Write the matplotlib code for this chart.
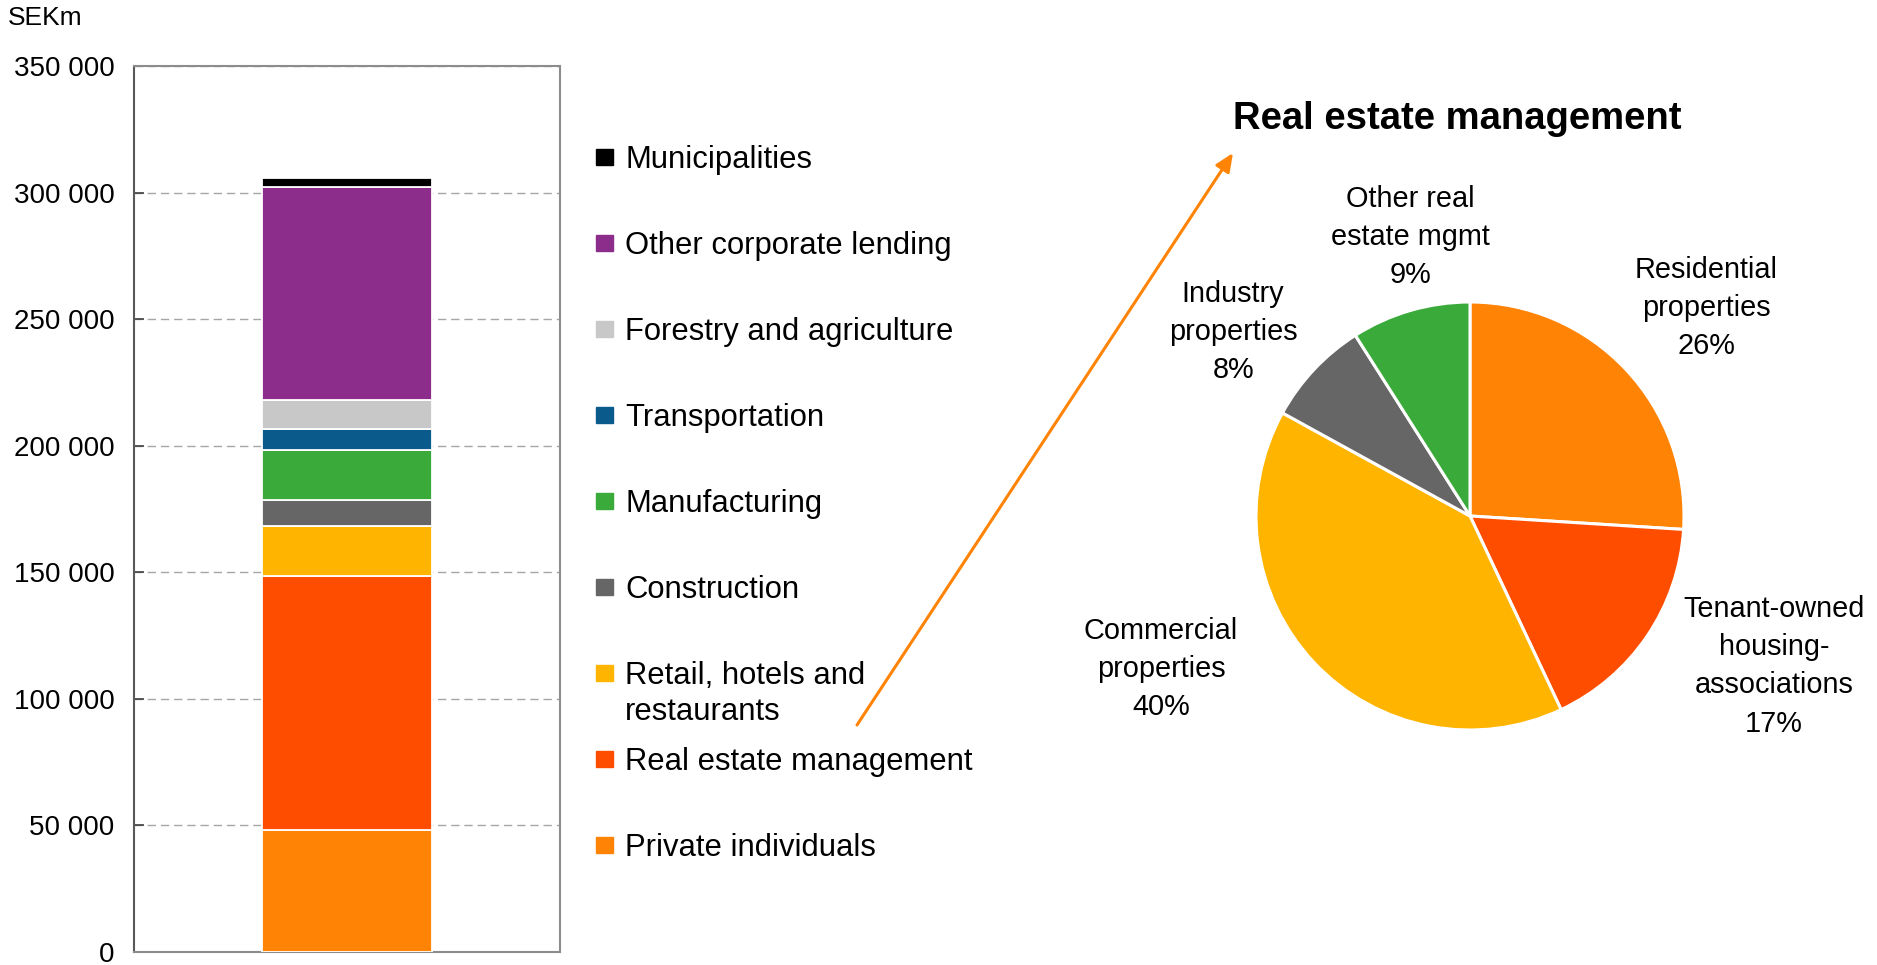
import matplotlib.pyplot as plt
from matplotlib.patches import Rectangle, FancyArrowPatch
from matplotlib.ticker import FuncFormatter

plt.rcParams['font.family'] = ['Liberation Sans', 'DejaVu Sans']

# lending per sector, SEKm, from the bottom of the bar upwards
sectors = ['Private individuals', 'Real estate management',
           'Retail, hotels and\nrestaurants', 'Construction', 'Manufacturing',
           'Transportation', 'Forestry and agriculture',
           'Other corporate lending', 'Municipalities']
lending = [48000, 100500, 19700, 10200, 19800, 8600, 11200, 84100, 3800]
sector_colors = ['#FF8305', '#FF4D00', '#FFB400', '#666666', '#3AAA3A',
                 '#0B5A8C', '#C8C8C8', '#8C2D8C', '#000000']
y_ticks = [0, 50000, 100000, 150000, 200000, 250000, 300000, 350000]

# real estate management split, %
re_parts = ['Residential\nproperties', 'Tenant-owned\nhousing-\nassociations',
            'Commercial\nproperties', 'Industry\nproperties',
            'Other real\nestate mgmt']
re_shares = [26, 17, 40, 8, 9]
re_colors = ['#FF8305', '#FF4D00', '#FFB400', '#666666', '#3AAA3A']

W, H = 1877, 965
fig = plt.figure(figsize=(W / 100, H / 100), dpi=100)

# --- stacked bar
ax = fig.add_axes([134 / W, 1 - 952 / H, 426 / W, 886 / H])
bottom = 0
for val, col in zip(lending, sector_colors):
    ax.bar(0, val, width=0.4, bottom=bottom, color=col,
           edgecolor='white', linewidth=1.3, zorder=3)
    bottom += val
ax.set_xlim(-0.5, 0.5)
ax.set_ylim(0, 350000)
ax.set_xticks([])
ax.set_yticks(y_ticks)
ax.yaxis.set_major_formatter(
    FuncFormatter(lambda v, p: f'{int(v):,}'.replace(',', ' ')))
ax.tick_params(axis='y', direction='in', length=7, width=1.2,
               color='#404040', pad=14, labelsize=20)
ax.yaxis.grid(True, linestyle=(0, (6, 3.5)), color='#A6A6A6', linewidth=1)
for side in ['top', 'right', 'bottom']:
    ax.spines[side].set_color('#8C8C8C')
    ax.spines[side].set_linewidth(1.5)
ax.spines['left'].set_color('#595959')
ax.spines['left'].set_linewidth(1.5)
fig.text(8 / W, 1 - 18 / H, 'SEKm', fontsize=19, ha='left', va='center')

# --- legend, drawn by hand so the two-line entry keeps the even spacing
for i, (name, col) in enumerate(zip(sectors[::-1], sector_colors[::-1])):
    yc = 157 + 86 * i
    fig.patches.append(Rectangle((596 / W, 1 - (yc + 8) / H), 17 / W, 16 / H,
                                 transform=fig.transFigure, color=col))
    fig.text(625 / W, 1 - (yc - 12) / H, name, fontsize=22.3, ha='left',
             va='top', linespacing=1.25)

# --- pie
ax2 = fig.add_axes([(1470 - 214) / W, 1 - (516 + 214) / H, 428 / W, 428 / H])
ax2.pie(re_shares, colors=re_colors, startangle=90, counterclock=False,
        wedgeprops=dict(edgecolor='white', linewidth=2.2))
ax2.set_aspect('equal')
ax2.set_xlim(-1, 1)
ax2.set_ylim(-1, 1)
label_pos = [(1.103, 0.972), (1.421, -0.701), (-1.444, -0.715),
             (-1.107, 0.860), (-0.280, 1.304)]
for name, share, (lx, ly) in zip(re_parts, re_shares, label_pos):
    ax2.text(lx, ly, f'{name}\n{share}%', fontsize=20.8, ha='center',
             va='center', multialignment='center', linespacing=1.47,
             clip_on=False)

fig.text(1457 / W, 1 - 119 / H, 'Real estate management', fontsize=27.5,
         fontweight='bold', ha='center', va='center')

arrow = FancyArrowPatch((857 / W, 1 - 725 / H), (1233 / W, 1 - 153 / H),
                        transform=fig.transFigure,
                        arrowstyle='-|>,head_length=0.5,head_width=0.22',
                        mutation_scale=22, color='#FF8305', linewidth=2.2,
                        shrinkA=0, shrinkB=0)
fig.patches.append(arrow)

fig.savefig('out.png', dpi=100)
